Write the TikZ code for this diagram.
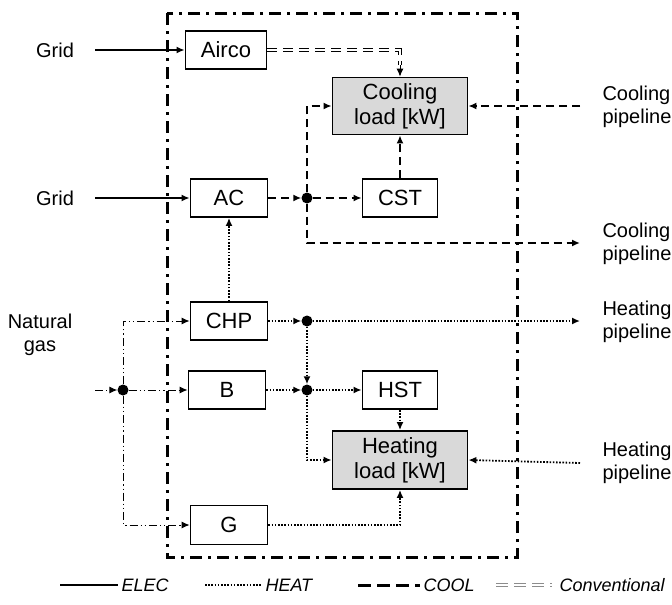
\documentclass[tikz,border=0pt]{standalone}
\usepackage{fontspec}
\setmainfont{Liberation Sans}
\usetikzlibrary{arrows.meta,positioning}
\definecolor{Ink}{HTML}{000000}
\definecolor{Load}{HTML}{D9D9D9}
\definecolor{Conv}{HTML}{8C8C8C}
\tikzset{
  unit/.style={
    draw=Ink,line width=1.8pt,fill=white,
    minimum width=77pt,minimum height=38pt,inner sep=0pt,
    font=\fontsize{22}{25}\selectfont,text=Ink
  },
  load/.style={
    unit,fill=Load,minimum width=135pt,minimum height=57pt,align=center
  },
  side/.style={font=\fontsize{20}{23}\selectfont,align=left,text=Ink},
  legtext/.style={font=\fontsize{18}{20}\selectfont\itshape,anchor=west,text=Ink},
  junction/.style={circle,fill=Ink,minimum size=11pt,inner sep=0pt},
  tip/.style={-{Latex[length=8pt,width=7pt]}},
  elec/.style={tip,line width=1.8pt,draw=Ink},
  heat/.style={tip,line width=1.8pt,dash pattern=on 1.6pt off 1.6pt,draw=Ink},
  cool/.style={tip,line width=1.9pt,dash pattern=on 8pt off 5pt,draw=Ink},
  gas/.style={tip,line width=1pt,dash pattern=on 8pt off 3pt on 1.2pt off 3pt on 1.2pt off 3pt,draw=Ink},
  conv/.style={line width=0.9pt,double=white,double distance=2pt,dash pattern=on 10pt off 6pt,draw=Ink},
  border/.style={line width=3pt,dash pattern=on 12pt off 6pt on 3pt off 6pt,draw=Ink}
}
\begin{document}
\begin{tikzpicture}[x=1pt,y=-1pt]
  \useasboundingbox (0,0) rectangle (672,605);

  % system boundary
  \draw[border] (167,13) rectangle (517,557);

  % units
  \node[unit,minimum width=81pt] (airco) at (226,50) {Airco};
  \node[unit] (ac) at (229,198) {AC};
  \node[unit] (chp) at (229,321) {CHP};
  \node[unit] (b) at (227,390) {B};
  \node[unit,minimum height=39pt] (g) at (229,525) {G};
  \node[unit,minimum width=75pt] (cst) at (400,198) {CST};
  \node[unit,minimum width=75pt] (hst) at (400,390) {HST};
  \node[load] (coolload) at (400,106) {Cooling\\load [kW]};
  \node[load,minimum height=58pt] (heatload) at (400,460) {Heating\\load [kW]};

  % junctions
  \node[junction] (jc) at (307,198) {};
  \node[junction] (jh1) at (307,321) {};
  \node[junction] (jh2) at (307,390) {};
  \node[junction] (jg) at (123,390) {};

  % outside labels
  \node[side] (grid1) at (55,50) {Grid};
  \node[side] (grid2) at (55,198) {Grid};
  \node[side,align=center] (ngas) at (40,335) {Natural\\gas};
  \node[side,anchor=west] (cpipe1) at (599,107) {Cooling\\pipeline};
  \node[side,anchor=west] (cpipe2) at (599,244) {Cooling\\pipeline};
  \node[side,anchor=west] (hpipe1) at (599,322) {Heating\\pipeline};
  \node[side,anchor=west] (hpipe2) at (599,463) {Heating\\pipeline};

  \coordinate (gridin1) at (95,50);
  \coordinate (gridin2) at (95,198);
  \coordinate (gasin) at (95,390);
  \coordinate (coolin) at (580,106);
  \coordinate (coolout) at (580,243);
  \coordinate (heatout) at (580,321);
  \coordinate (heatin) at (580,463);
  \coordinate (convend) at (400,65);

  % electricity
  \draw[elec] (gridin1) -- (airco);
  \draw[elec] (gridin2) -- (ac);

  % conventional cooling
  \draw[conv] (airco.east) -| (convend);
  \draw[tip,line width=0.9pt] (convend) -- (coolload.north);

  % cooling
  \draw[cool] (ac) -- (jc);
  \draw[cool] (jc) -- (cst);
  \draw[cool] (cst) -- (coolload);
  \draw[cool] (jc) |- (coolload.west);
  \draw[cool] (jc) |- (coolout);
  \draw[cool] (coolin) -- (coolload.east);

  % heating
  \draw[heat] (chp) -- (ac);
  \draw[heat] (chp) -- (jh1);
  \draw[heat] (jh1) -- (heatout);
  \draw[heat] (jh1) -- (jh2);
  \draw[heat] (b) -- (jh2);
  \draw[heat] (jh2) -- (hst);
  \draw[heat] (jh2) |- (heatload.west);
  \draw[heat] (hst) -- (heatload);
  \draw[heat] (heatin) -- (heatload.east);
  \draw[heat] (g) -| (heatload.south);

  % natural gas
  \draw[gas] (gasin) -- (jg);
  \draw[gas] (jg) -- (b);
  \draw[gas] (jg) |- (chp);
  \draw[gas] (jg) |- (g);

  % legend
  \coordinate (l1a) at (60,585);  \coordinate (l1b) at (118,585);
  \coordinate (l2a) at (205,585); \coordinate (l2b) at (262,585);
  \coordinate (l3a) at (358,585); \coordinate (l3b) at (420,585);
  \coordinate (l4a) at (496,585); \coordinate (l4b) at (552,585);
  \draw[line width=2.2pt] (l1a) -- (l1b);
  \draw[line width=2pt,dash pattern=on 1.6pt off 1.6pt] (l2a) -- (l2b);
  \draw[line width=3pt,dash pattern=on 13pt off 6pt] (l3a) -- (l3b);
  \draw[line width=1.1pt,draw=Conv,double=white,double distance=2.5pt,dash pattern=on 12pt off 6pt] (l4a) -- (l4b);
  \node[legtext] (lelec) at (l1b) {ELEC};
  \node[legtext] (lheat) at (l2b) {HEAT};
  \node[legtext] (lcool) at (l3b) {COOL};
  \node[legtext,xshift=4pt] (lconv) at (l4b) {Conventional};
\end{tikzpicture}
\end{document}
